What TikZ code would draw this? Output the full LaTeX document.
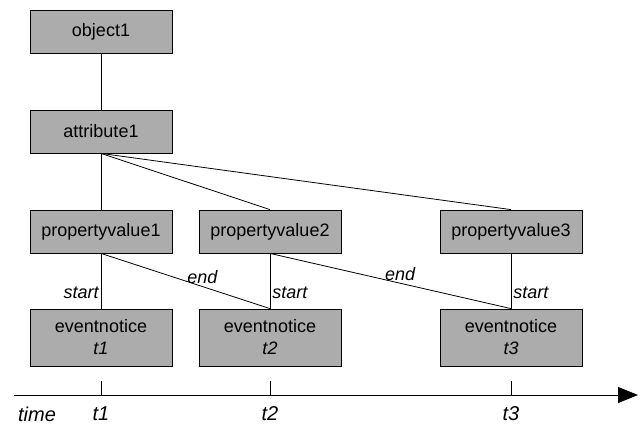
\documentclass[tikz,border=0pt]{standalone}
\usepackage{fontspec}
\setmainfont{Liberation Sans}
\usetikzlibrary{arrows.meta}
\definecolor{boxgray}{RGB}{172,172,172}

\begin{document}
\begin{tikzpicture}[x=1pt,y=-1pt,
    box/.style={draw, thick, fill=boxgray, minimum width=142pt, minimum height=43pt,
        inner sep=0pt, align=center, font=\fontsize{18}{22}\selectfont},
    evbox/.style={box, minimum height=57pt},
    lbl/.style={font=\fontsize{18}{22}\selectfont\itshape, inner sep=2pt},
    axlbl/.style={lbl, font=\fontsize{20}{24}\selectfont\itshape}]

    \useasboundingbox (0,0) rectangle (642,424);

    % Oggetto e attributo
    \node[box] (obj) at (101,31.5)  {object1};
    \node[box] (att) at (101,131.5) {attribute1};

    % Valori delle proprieta
    \node[box] (pv1) at (101,231.5) {propertyvalue1};
    \node[box] (pv2) at (270,231.5) {propertyvalue2};
    \node[box] (pv3) at (511,231.5) {propertyvalue3};

    % Eventi
    \node[evbox] (ev1) at (101,337.5) {eventnotice\\\textit{t1}};
    \node[evbox] (ev2) at (270,337.5) {eventnotice\\\textit{t2}};
    \node[evbox] (ev3) at (511,337.5) {eventnotice\\\textit{t3}};

    % Collegamenti
    \draw[thick] (obj.south) -- (att.north);
    \draw[thick] (att.south) -- (pv1.north);
    \draw[thick] (att.south) -- (pv2.north);
    \draw[thick] (att.south) -- (pv3.north);

    \draw[thick] (pv1.south) -- node[lbl, left, pos=0.72] {start} (ev1.north);
    \draw[thick] (pv2.south) -- node[lbl, right, pos=0.72] {start} (ev2.north);
    \draw[thick] (pv3.south) -- node[lbl, right, pos=0.72] {start} (ev3.north);

    \draw[thick] (pv1.south) -- node[lbl, above, pos=0.6] {end} (ev2.north);
    \draw[thick] (pv2.south) -- node[lbl, above, pos=0.54] {end} (ev3.north);

    % Asse dei tempi
    \coordinate (a0) at (14,395);
    \coordinate (a1) at (638,395);
    \draw[thick, -{Triangle[length=20pt,width=16pt]}] (a0) -- (a1);

    \node[axlbl] (time) at (37,414) {time};
    \foreach \i/\x in {1/101, 2/270, 3/511} {
        \coordinate (k\i) at (\x,381);
        \draw[thick] (k\i) -- (k\i |- a0);
        \node[axlbl] (t\i) at (\x,414) {t\i};
    }

\end{tikzpicture}
\end{document}
